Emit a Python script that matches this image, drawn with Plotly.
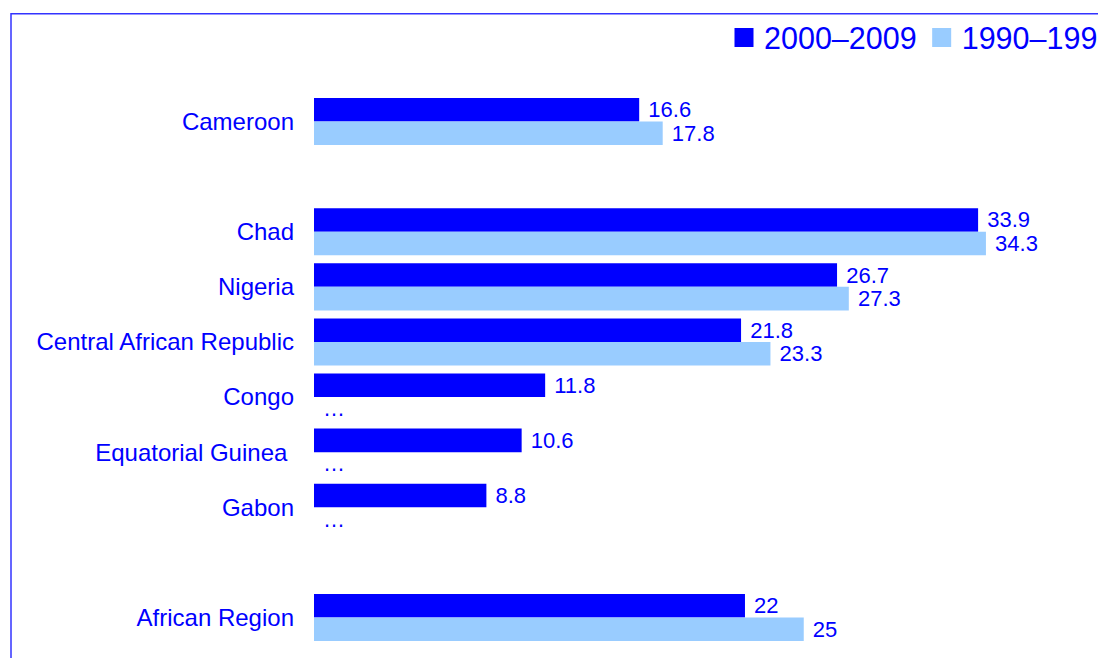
import plotly.graph_objects as go

# ---- data ----
categories = ["Cameroon", "Chad", "Nigeria", "Central African Republic", "Congo",
              "Equatorial Guinea\u00a0", "Gabon", "African Region"]
category_order = ["Cameroon", " ", "Chad", "Nigeria", "Central African Republic", "Congo",
                  "Equatorial Guinea\u00a0", "Gabon", "  ", "African Region"]
series_names = ["2000\u20132009", "1990\u20131999"]
values_2000s = [16.6, 33.9, 26.7, 21.8, 11.8, 10.6, 8.8, 22]
values_1990s = [17.8, 34.3, 27.3, 23.3, None, None, None, 25]
missing_label = "\u2026"

DARK = "#0000FF"
LIGHT = "#99CCFF"
TEXT = "#0000FF"
FONT = "Arial, Liberation Sans, sans-serif"

def labels(vals):
    return ["\u00a0" + (missing_label if v is None else f"{v:g}") for v in vals]

def drawn(vals):
    return [0 if v is None else v for v in vals]

fig = go.Figure()
for name, vals, col in [(series_names[0], values_2000s, DARK),
                        (series_names[1], values_1990s, LIGHT)]:
    fig.add_trace(go.Bar(
        name=name, y=categories, x=drawn(vals), orientation="h",
        marker=dict(color=col, line=dict(width=0)),
        text=labels(vals), textposition="outside",
        textfont=dict(color=TEXT, size=22, family=FONT), constraintext="none",
        cliponaxis=False, hoverinfo="skip", showlegend=False, legendgroup=name))
# legend entries (larger square keys)
for name, col in [(series_names[0], DARK), (series_names[1], LIGHT)]:
    fig.add_trace(go.Scatter(
        name=name, x=[None], y=[None], mode="markers", legendgroup=name,
        marker=dict(symbol="square", size=16, color=col, line=dict(color=col, width=3)),
        hoverinfo="skip", showlegend=True))

# page has an 8px body margin, so the figure is 8px smaller than the window
W, H = 1098, 650
OFF = 8
ML, MR, MT, MB = 314 - OFF, 0, 93.5 - OFF, 12.5
px_per_unit = 19.59
plot_w = W - ML - MR
xmax = plot_w / px_per_unit
plot_h = H - MT - MB

fig.update_layout(
    width=W, height=H,
    margin=dict(l=ML, r=MR, t=MT, b=MB, pad=0, autoexpand=False),
    barmode="group", bargap=8 / 55, bargroupgap=0,
    paper_bgcolor="white", plot_bgcolor="white",
    font=dict(family=FONT, color=TEXT, size=22),
    xaxis=dict(range=[0, xmax], visible=False, showgrid=False, zeroline=False),
    yaxis=dict(type="category", categoryorder="array", categoryarray=category_order,
               range=[len(category_order) - 0.5, -0.5],
               showgrid=False, zeroline=False, showline=False, ticks="",
               ticklabelstandoff=19, tickfont=dict(size=24, color=TEXT, family=FONT)),
    showlegend=True,
    legend=dict(orientation="h", x=(724 - OFF - ML) / plot_w, xanchor="left",
                y=(H - MB - (37 - OFF)) / plot_h, yanchor="middle",
                font=dict(size=30.5, color=TEXT, family=FONT),
                bgcolor="rgba(0,0,0,0)", itemwidth=30, traceorder="normal",
                itemsizing="trace"),
    shapes=[dict(type="rect", xref="paper", yref="paper",
                 x0=(11 - OFF - ML) / plot_w, x1=1.5,
                 y0=-0.5, y1=(H - MB - (13 - OFF)) / plot_h,
                 line=dict(color="#3333FF", width=1.5), layer="below")],
)

fig.write_html("out.html")
